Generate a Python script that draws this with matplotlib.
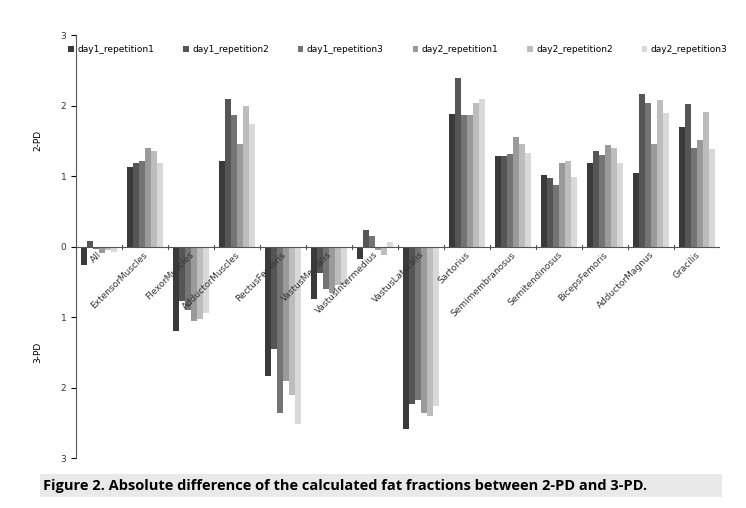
import matplotlib.pyplot as plt
import matplotlib.patches as mpatches
import numpy as np

categories = ["All", "ExtensorMuscles", "FlexorMuscles", "AdductorMuscles", "RectusFemoris",
              "VastusMedialis", "VastusIntermedius", "VastusLateralis", "Sartorius",
              "Semimembranosus", "Semitendinosus", "BicepsFemoris", "AdductorMagnus", "Gracilis"]
series_names = ["day1_repetition1", "day1_repetition2", "day1_repetition3",
                "day2_repetition1", "day2_repetition2", "day2_repetition3"]
# positive = 2-PD larger, negative = 3-PD larger
day1_rep1 = [-0.26, 1.13, -1.19, 1.21, -1.83, -0.74, -0.18, -2.58, 1.88, 1.29, 1.01, 1.18, 1.04, 1.70]
day1_rep2 = [0.08, 1.19, -0.77, 2.10, -1.45, -0.38, 0.24, -2.23, 2.39, 1.28, 0.97, 1.35, 2.17, 2.02]
day1_rep3 = [-0.04, 1.21, -0.90, 1.87, -2.36, -0.60, 0.15, -2.18, 1.86, 1.31, 0.88, 1.30, 2.03, 1.40]
day2_rep1 = [-0.09, 1.40, -1.06, 1.46, -1.90, -0.66, -0.05, -2.36, 1.87, 1.55, 1.19, 1.44, 1.45, 1.51]
day2_rep2 = [-0.05, 1.36, -1.02, 2.00, -2.11, -0.55, -0.12, -2.40, 2.03, 1.45, 1.22, 1.40, 2.08, 1.91]
day2_rep3 = [-0.07, 1.19, -0.94, 1.74, -2.51, -0.53, 0.07, -2.26, 2.10, 1.33, 0.99, 1.18, 1.90, 1.39]
values = [day1_rep1, day1_rep2, day1_rep3, day2_rep1, day2_rep2, day2_rep3]
colors = ["#3a3a3a", "#555555", "#747474", "#9a9a9a", "#bdbdbd", "#d9d9d9"]

fig = plt.figure(figsize=(7.46, 5.08), dpi=100)
ax = fig.add_axes([0.102, 0.098, 0.863, 0.833])

x = np.arange(len(categories))
w = 0.8 / 6
for i, (name, vals) in enumerate(zip(series_names, values)):
    ax.bar(x - 0.4 + w * (i + 0.5), vals, w, color=colors[i], label=name, linewidth=0)

ax.set_xlim(-0.5, len(categories) - 0.5)
ax.set_ylim(-3, 3)
ax.set_yticks([-3, -2, -1, 0, 1, 2, 3])
ax.set_yticklabels(["3", "2", "1", "0", "1", "2", "3"], fontsize=6.5, color="#333333")
for s in ["top", "right", "bottom"]:
    ax.spines[s].set_visible(False)
ax.spines["left"].set_color("#555555")
ax.axhline(0, color="#555555", lw=0.8)
ax.set_xticks([])
for xb in np.arange(-0.5, len(categories), 1.0):
    ax.plot([xb, xb], [-0.03, 0.03], color="#555555", lw=0.8)
for xi, c in zip(x, categories):
    ax.text(xi + 0.1, -0.05, c, rotation=45, ha="right", va="top", fontsize=6.5, color="#333333")

ax.text(-0.06, 0.75, "2-PD", transform=ax.transAxes, rotation=90, ha="center", va="center", fontsize=6.5)
ax.text(-0.06, 0.25, "3-PD", transform=ax.transAxes, rotation=90, ha="center", va="center", fontsize=6.5)

ax.legend(loc="upper center", bbox_to_anchor=(0.5, 0.995), ncol=6, frameon=False, fontsize=6.5,
          handlelength=0.6, handleheight=0.6, columnspacing=3.2, handletextpad=0.4)

fig.patches.append(mpatches.Rectangle((0.054, 0.022), 0.914, 0.044, transform=fig.transFigure,
                                      facecolor="#e9e9e9", edgecolor="none", zorder=0))
fig.text(0.058, 0.044, "Figure 2. Absolute difference of the calculated fat fractions between 2-PD and 3-PD.",
         fontsize=10.5, fontweight="bold", family="Open Sans", va="center", ha="left")

fig.savefig("out.png", dpi=100)
